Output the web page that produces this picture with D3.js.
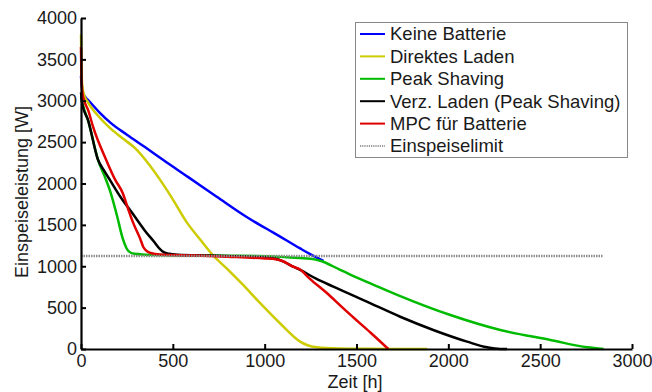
<!DOCTYPE html>
<html><head><meta charset="utf-8">
<script src="https://cdn.jsdelivr.net/npm/d3@7"></script>
<style>body{margin:0;background:#fff}svg{display:block}text{font-family:"Liberation Sans",Arial,sans-serif;fill:#1a1a1a}</style>
</head><body><svg id="c" width="652" height="392"></svg>
<script>
const seriesNames = ["Keine Batterie","Direktes Laden","Peak Shaving","Verz. Laden (Peak Shaving)","MPC für Batterie"];
const seriesColors = ["#0000ff","#cccc00","#00bb00","#000000","#e00000"];
const limitName = "Einspeiselimit";
const limitValue = 1125;
const limitRange = [0, 2840];
const xTicks = [0,500,1000,1500,2000,2500,3000];
const yTicks = [0,500,1000,1500,2000,2500,3000,3500,4000];

const keineBatterie = [[0,3300],[3,3200],[10,3100],[25,3040],[38,3010],[100,2860],[163,2730],[250,2590],[348,2440],[450,2280],[582,2080],[739,1840],[902,1595],[973,1500],[1045,1410],[1193,1215],[1245,1150],[1320,1065]];
const direktesLaden = [[0,3800],[2,3500],[6,3200],[15,3080],[38,2980],[100,2800],[163,2660],[230,2540],[293,2430],[360,2260],[429,2050],[494,1830],[576,1530],[650,1320],[717,1136],[800,960],[880,780],[973,560],[1082,314],[1193,89],[1230,48],[1284,20],[1400,6],[1550,2],[1885,0]];
const peakShaving = [[0,3050],[10,2950],[40,2750],[92,2290],[130,2080],[160,1900],[195,1620],[228,1330],[245,1230],[260,1180],[290,1150],[350,1140],[400,1135],[600,1130],[800,1127],[1000,1122],[1193,1100],[1250,1090],[1302,1067],[1408,960],[1466,900],[1600,770],[1738,640],[2011,411],[2283,230],[2556,109],[2757,20],[2845,0]];
const verzLaden = [[0,3100],[8,2950],[38,2770],[92,2290],[130,2140],[158,2040],[217,1830],[280,1640],[348,1430],[400,1290],[429,1210],[450,1170],[480,1150],[527,1140],[700,1130],[900,1115],[1000,1105],[1060,1090],[1100,1060],[1150,1000],[1193,955],[1280,850],[1374,753],[1556,572],[1738,390],[1918,230],[2102,89],[2211,20],[2283,0],[2320,0]];
const mpcBatterie = [[0,3650],[3,3250],[10,3060],[40,2880],[65,2690],[140,2270],[185,2050],[228,1880],[255,1704],[283,1530],[321,1340],[340,1230],[360,1180],[380,1160],[430,1142],[600,1130],[800,1115],[1000,1095],[1060,1085],[1100,1060],[1150,1000],[1193,960],[1245,850],[1340,673],[1424,500],[1504,340],[1580,190],[1673,0]];

const seriesData = [keineBatterie, direktesLaden, peakShaving, verzLaden, mpcBatterie];

const svg = d3.select("#c");
const x = d3.scaleLinear().domain([0,3000]).range([81,632]);
const y = d3.scaleLinear().domain([0,4000]).range([349,18]);
const line = d3.line().x(d=>x(d[0])).y(d=>y(d[1])).curve(d3.curveMonotoneX);

const plot = svg.append("g");
seriesData.forEach((s,i)=>{
  plot.append("path").datum(s).attr("d",line).attr("fill","none")
    .attr("stroke",seriesColors[i]).attr("stroke-width",2.5).attr("stroke-linejoin","round");
});
plot.append("line").attr("x1",x(limitRange[0])).attr("x2",x(limitRange[1]))
  .attr("y1",y(limitValue)).attr("y2",y(limitValue))
  .attr("stroke","#8c8c8c").attr("stroke-width",2.5).attr("stroke-dasharray","1.5,1");

const fs = 18;
const fmt = d3.format("d");
const gx = svg.append("g").attr("transform","translate(0,349)")
  .call(d3.axisBottom(x).tickValues(xTicks).tickFormat(fmt).tickSizeInner(-5).tickSizeOuter(0).tickPadding(5));
const gy = svg.append("g").attr("transform","translate(81,0)")
  .call(d3.axisLeft(y).tickValues(yTicks).tickFormat(fmt).tickSizeInner(-5).tickSizeOuter(0).tickPadding(4));
[gx,gy].forEach(g=>{
  g.select(".domain").attr("stroke","#000").attr("stroke-width",2.2);
  g.selectAll(".tick line").attr("stroke","#000").attr("stroke-width",2);
  g.selectAll(".tick text").attr("font-size",fs).attr("fill","#1a1a1a").attr("font-family","Liberation Sans, Arial, sans-serif");
});

svg.append("text").attr("x",355).attr("y",387.5).attr("text-anchor","middle").attr("font-size",fs).text("Zeit [h]");
svg.append("text").attr("transform","translate(28,192) rotate(-90)").attr("text-anchor","middle").attr("font-size",fs).text("Einspeiseleistung [W]");

const lg = svg.append("g");
lg.append("rect").attr("x",355.5).attr("y",22.5).attr("width",272).attr("height",135)
  .attr("fill","#fff").attr("stroke","#888").attr("stroke-width",1);
const names = seriesNames.concat([limitName]);
names.forEach((n,i)=>{
  const yy = 34 + i*22.4;
  const l = lg.append("line").attr("x1",360).attr("x2",385).attr("y1",yy).attr("y2",yy)
    .attr("stroke-width",2);
  if(i<seriesNames.length) l.attr("stroke",seriesColors[i]);
  else l.attr("stroke","#999").attr("stroke-dasharray","1.2,1");
  lg.append("text").attr("x",390).attr("y",yy).attr("dy","0.35em").attr("font-size",18.5).text(n);
});
</script></body></html>
